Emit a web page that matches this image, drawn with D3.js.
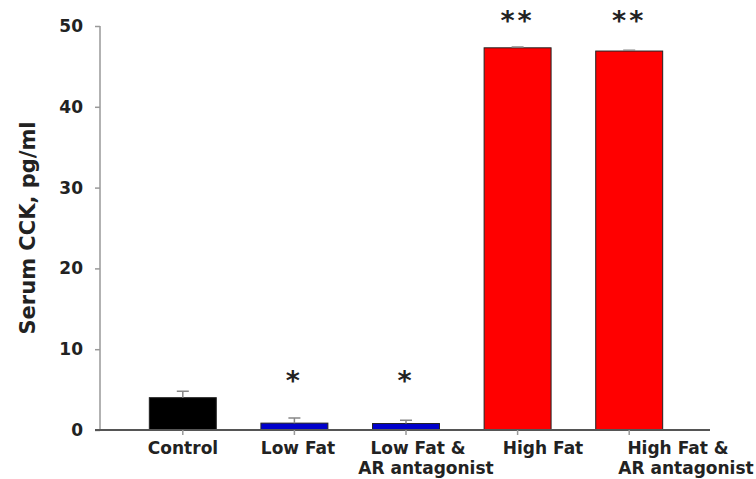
<!DOCTYPE html>
<html>
<head>
<meta charset="utf-8">
<script src="https://cdn.jsdelivr.net/npm/d3@7"></script>
<style>
  body { margin: 0; background: #fff; }
  svg text { font-family: "DejaVu Sans", Verdana, sans-serif; font-weight: bold; fill: #222; }
</style>
</head>
<body>
<div id="container"></div>
<script>
const groups = ["Control", "Low Fat", "Low Fat &\nAR antagonist", "High Fat", "High Fat &\nAR antagonist"];
const means = [4.0, 0.85, 0.8, 47.3, 46.9];
const errors = [0.8, 0.65, 0.4, 0.1, 0.1];
const stars = ["", "*", "*", "**", "**"];
const colors = ["#000000", "#0000cc", "#0000cc", "#ff0000", "#ff0000"];
const yTicks = [0, 10, 20, 30, 40, 50];

const svg = d3.select("#container")
  .append("svg")
  .attr("width", 756)
  .attr("height", 479);

const y = d3.scaleLinear().domain([0, 50]).range([430, 26]);
const x = d3.scaleBand()
  .domain(groups)
  .range([127, 685])
  .paddingInner(0.4)
  .paddingOuter(0.2);

// label centres drift right of the bars in the original figure
const labelX = d3.scaleOrdinal().domain(groups).range([183, 298, 418, 543, 678]);

// y axis
const yAxis = svg.append("g")
  .attr("transform", "translate(100,0)")
  .call(d3.axisLeft(y).tickValues(yTicks).tickSize(5).tickPadding(12));
yAxis.select(".domain").attr("stroke", "#999").attr("stroke-width", 1.5).attr("d", `M0,${y(50)}V${y(0)}`);
yAxis.selectAll(".tick line").attr("stroke", "#999").attr("stroke-width", 1.5);
yAxis.selectAll(".tick text")
  .style("font-size", "17px")
  .style("font-family", "'DejaVu Sans', sans-serif")
  .style("font-weight", "bold")
  .attr("fill", "#333");

svg.append("text")
  .attr("transform", `translate(35,${(y(0) + y(50)) / 2}) rotate(-90)`)
  .attr("text-anchor", "middle")
  .style("font-size", "21px")
  .attr("fill", "#333")
  .text("Serum CCK, pg/ml");

// bars
svg.selectAll(".bar")
  .data(groups)
  .enter()
  .append("rect")
  .attr("class", "bar")
  .attr("x", d => x(d))
  .attr("y", (d, i) => y(means[i]))
  .attr("width", x.bandwidth())
  .attr("height", (d, i) => y(0) - y(means[i]))
  .attr("fill", (d, i) => colors[i])
  .attr("stroke", "#222")
  .attr("stroke-width", 1);

// error bars (upper only)
const cx = d => x(d) + x.bandwidth() / 2;
svg.selectAll(".err")
  .data(groups)
  .enter()
  .append("path")
  .attr("class", "err")
  .attr("fill", "none")
  .attr("stroke", "#888")
  .attr("stroke-width", 1.5)
  .attr("d", (d, i) => {
    const top = y(means[i] + errors[i]);
    return `M${cx(d)},${y(means[i])}V${top}M${cx(d) - 6},${top}H${cx(d) + 6}`;
  });

// x axis line and ticks
svg.append("line")
  .attr("x1", 95).attr("x2", 710)
  .attr("y1", y(0)).attr("y2", y(0))
  .attr("stroke", "#555")
  .attr("stroke-width", 2);

svg.selectAll(".xtick")
  .data(groups)
  .enter()
  .append("line")
  .attr("x1", cx).attr("x2", cx)
  .attr("y1", y(0)).attr("y2", y(0) + 5)
  .attr("stroke", "#999")
  .attr("stroke-width", 1.5);

// category labels
svg.selectAll(".xlabel")
  .data(groups)
  .enter()
  .append("text")
  .attr("class", "xlabel")
  .attr("text-anchor", "middle")
  .style("font-size", "17px")
  .each(function(d) {
    d.split("\n").forEach((line, j) => {
      d3.select(this).append("tspan")
        .attr("x", labelX(d) + j * 8)
        .attr("y", 454 + j * 20)
        .text(line);
    });
  });

// significance stars
svg.selectAll(".star")
  .data(groups)
  .enter()
  .append("text")
  .attr("class", "star")
  .attr("text-anchor", "middle")
  .attr("x", cx)
  .attr("y", (d, i) => means[i] > 20 ? 30 : 390)
  .style("font-size", "27px")
  .style("letter-spacing", "3px")
  .attr("fill", "#555")
  .text((d, i) => stars[i]);
</script>
</body>
</html>
